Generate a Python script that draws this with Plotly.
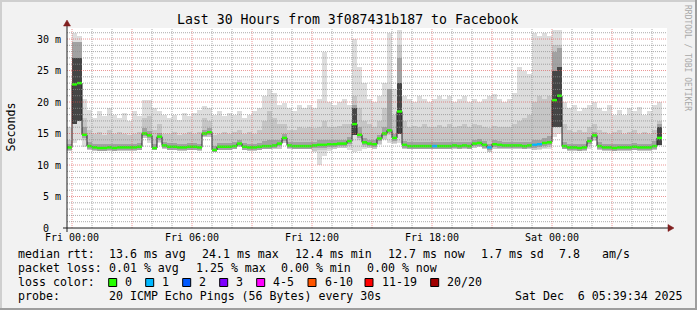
import plotly.graph_objects as go
import pandas as pd

# ---------------- data (15-minute steps starting Thu 23:45) ----------------
med = [
    12.8, 22.8, 23.0, 14.8, 13.0, 12.8, 12.7, 12.7, 12.8, 12.7,
    12.8, 12.8, 12.8, 12.8, 12.9, 15.0, 14.7, 12.7, 14.5, 13.1,
    12.9, 12.9, 12.8, 12.8, 12.9, 12.9, 12.8, 15.0, 15.2, 12.4,
    12.9, 12.9, 12.9, 13.0, 13.4, 12.9, 12.8, 12.8, 12.9, 13.0,
    13.0, 13.1, 13.4, 14.3, 13.1, 13.0, 13.0, 13.0, 13.0, 13.1,
    13.2, 13.2, 13.3, 13.3, 13.4, 13.4, 13.8, 16.5, 14.8, 13.6,
    13.4, 13.3, 14.2, 15.0, 15.5, 14.3, 18.5, 13.2, 13.0, 13.0,
    13.0, 13.0, 13.0, 13.0, 13.0, 13.0, 13.0, 13.1, 13.0, 13.1,
    13.0, 13.4, 13.5, 13.2, 12.8, 13.3, 13.2, 13.1, 13.1, 13.1,
    13.1, 13.0, 13.1, 13.2, 13.3, 13.5, 13.6, 20.3, 21.0, 13.0,
    12.8, 12.8, 12.7, 12.8, 13.8, 14.7, 13.0, 12.8, 12.8, 12.7,
    12.8, 12.8, 12.8, 12.9, 12.8, 12.8, 12.8, 13.0, 14.3,
]
lo = [
    12.3, 13.5, 14.0, 12.8, 12.4, 12.3, 12.2, 12.2, 12.3, 12.2,
    12.3, 12.3, 12.3, 12.3, 12.4, 14.3, 13.5, 12.4, 13.5, 12.6,
    12.4, 12.4, 12.3, 12.3, 12.4, 12.4, 12.3, 14.5, 14.4, 12.0,
    12.4, 12.4, 12.4, 12.5, 12.8, 12.4, 12.3, 12.3, 12.4, 12.5,
    12.5, 12.5, 12.6, 13.5, 12.6, 12.5, 12.5, 12.5, 12.5, 12.0,
    10.0, 11.5, 12.2, 12.6, 12.7, 12.7, 12.4, 12.0, 12.2, 12.6,
    12.7, 12.6, 13.2, 14.0, 13.5, 13.3, 13.5, 12.6, 12.5, 12.5,
    12.5, 12.5, 12.5, 12.5, 12.5, 12.5, 12.5, 12.5, 12.5, 12.6,
    12.5, 12.7, 12.8, 12.5, 12.0, 12.6, 12.6, 12.5, 12.5, 12.5,
    12.5, 12.5, 12.5, 12.4, 12.4, 12.6, 12.5, 14.5, 15.0, 12.5,
    12.3, 12.3, 12.2, 12.3, 12.6, 13.8, 12.4, 12.3, 12.3, 12.2,
    12.3, 12.3, 12.3, 12.4, 12.3, 12.3, 12.3, 12.4, 13.0,
]
mid = [
    14.0, 28.0, 28.5, 17.5, 15.5, 15.0, 15.2, 14.8, 15.5, 15.0,
    15.3, 15.0, 14.8, 15.0, 15.2, 17.5, 17.8, 15.5, 16.5, 15.0,
    15.0, 15.2, 14.8, 15.0, 15.3, 15.0, 15.2, 17.5, 17.0, 14.8,
    15.0, 15.3, 15.0, 15.2, 15.5, 15.0, 15.2, 15.0, 15.6, 17.0,
    18.5, 17.5, 16.5, 16.5, 15.5, 15.5, 16.0, 15.8, 16.0, 15.8,
    16.0, 17.0, 16.0, 16.0, 16.2, 16.5, 16.5, 21.0, 19.0, 17.0,
    16.5, 16.0, 17.0, 19.0, 22.0, 18.0, 29.0, 17.0, 16.0, 16.2,
    16.0, 16.5, 16.0, 16.0, 16.3, 16.0, 16.5, 16.0, 16.2, 16.5,
    16.0, 16.5, 16.3, 16.0, 15.8, 16.2, 16.0, 16.0, 16.0, 16.5,
    17.0, 17.5, 18.0, 20.0, 21.0, 20.5, 21.0, 29.0, 29.0, 16.5,
    15.5, 15.3, 15.5, 15.2, 16.0, 16.5, 15.5, 15.3, 15.0, 15.2,
    15.5, 15.0, 15.3, 15.5, 15.0, 15.2, 15.0, 15.5, 17.0,
]
hi = [
    16.0, 31.0, 30.5, 20.5, 18.8, 17.5, 18.5, 17.8, 19.0, 18.0,
    17.5, 18.2, 17.0, 18.5, 17.8, 20.4, 20.3, 19.0, 18.5, 18.0,
    17.5, 18.0, 17.2, 18.3, 17.8, 18.2, 18.8, 19.3, 19.0, 18.0,
    18.5, 17.8, 18.3, 18.0, 18.5, 17.5, 18.0, 18.5, 19.0, 21.0,
    22.0, 21.5, 19.5, 19.8, 19.0, 18.5, 19.5, 19.0, 19.5, 19.0,
    20.5, 28.0, 20.0, 19.5, 20.0, 20.5, 19.5, 30.0, 25.5, 23.0,
    20.5, 20.0, 21.0, 23.0, 31.0, 22.0, 31.5, 21.0, 20.5, 20.0,
    21.0, 20.5, 20.0, 20.5, 21.0, 20.5, 21.0, 20.0, 20.5, 21.0,
    20.0, 20.5, 20.0, 20.5, 21.0, 21.3, 20.5, 20.0, 20.5, 21.5,
    25.5, 25.0, 24.5, 31.0, 30.5, 31.0, 30.5, 31.5, 31.5, 20.0,
    19.0, 19.5, 18.5, 19.0, 19.5, 20.0, 19.0, 18.5, 19.5, 18.0,
    18.8, 18.0, 19.0, 18.5, 19.2, 18.0, 18.5, 19.5, 20.0,
]
core = [
    13.4, 29.5, 29.5, 16.0, 13.6, 13.4, 13.3, 13.3, 13.4, 13.3,
    13.4, 13.4, 13.4, 13.4, 13.5, 15.8, 15.4, 13.3, 15.1, 13.7,
    13.5, 13.5, 13.4, 13.4, 13.5, 13.5, 13.4, 15.6, 15.8, 13.0,
    13.5, 13.5, 13.5, 13.6, 14.0, 13.5, 13.4, 13.4, 13.5, 13.8,
    14.0, 13.9, 14.0, 14.9, 13.7, 13.6, 13.7, 13.6, 13.7, 13.7,
    13.9, 14.0, 13.9, 13.9, 14.0, 14.0, 14.5, 19.5, 16.0, 14.3,
    14.0, 13.9, 14.8, 16.0, 22.0, 15.0, 27.0, 13.8, 13.6, 13.6,
    13.6, 13.6, 13.6, 13.6, 13.6, 13.6, 13.6, 13.7, 13.6, 13.7,
    13.6, 14.0, 14.1, 13.8, 13.4, 13.9, 13.8, 13.7, 13.7, 13.7,
    13.7, 13.6, 13.7, 13.9, 14.0, 14.3, 14.6, 28.0, 28.5, 13.6,
    13.4, 13.4, 13.3, 13.4, 14.4, 15.3, 13.6, 13.4, 13.4, 13.3,
    13.4, 13.4, 13.4, 13.5, 13.4, 13.4, 13.4, 13.8, 16.5,
]
loss = [
    0, 0, 0, 0, 0, 0, 0, 0, 0, 0,
    0, 0, 0, 0, 0, 0, 0, 0, 0, 0,
    0, 0, 0, 0, 0, 0, 0, 0, 0, 0,
    0, 0, 0, 0, 0, 0, 0, 0, 0, 0,
    0, 0, 0, 0, 0, 0, 0, 0, 0, 0,
    0, 0, 0, 0, 0, 0, 0, 0, 0, 0,
    0, 0, 0, 0, 0, 0, 0, 0, 0, 0,
    0, 0, 0, 1, 0, 0, 0, 0, 0, 0,
    0, 0, 0, 0, 1, 0, 0, 0, 0, 0,
    0, 0, 0, 1, 1, 0, 0, 0, 0, 0,
    0, 0, 0, 0, 0, 0, 0, 0, 0, 0,
    0, 0, 0, 0, 0, 0, 0, 0, 0,
]
# darkest smoke core (only where the pings spread widely)
dark_idx = [1, 2, 57, 66, 97, 98, 118]
dark_lo = [16.5, 17.0, 14.8, 15.0, 16.0, 16.0, 13.2]
dark_hi = [27.0, 27.0, 19.0, 23.0, 25.0, 25.5, 16.0]

loss_labels = ["0", "1", "2", "3", "4-5", "6-10", "11-19", "20/20"]
loss_colors = ["#26ff00", "#00b8ff", "#0059ff", "#7e00ff", "#ff00ff", "#ff5500", "#ff0000", "#a00000"]

rtt_stats = ["13.6 ms avg", "24.1 ms max", "12.4 ms min", "12.7 ms now", "1.7 ms sd", "7.8", "am/s"]
loss_stats = ["0.01 % avg", "1.25 % max", "0.00 % min", "0.00 % now"]
probe_text = "20 ICMP Echo Pings (56 Bytes) every 30s"
stamp_text = "Sat Dec\u00a0 6 05:39:34 2025"
title_text = "Last 30 Hours from 3f087431b187 to Facebook"

y_tickvals = [0, 5, 10, 15, 20, 25, 30]
y_ticktext = ["0\u00a0\u00a0", "5 m", "10 m", "15 m", "20 m", "25 m", "30 m"]

# ---------------- geometry helpers ----------------
W, H = 697, 310
L, R, T, B = 67, 30, 28, 82
PW, PH = W - L - R, H - T - B
FONT = "DejaVu Sans Mono"


def px(x):
    return (x - L) / PW


def py(y):
    return (H - B - y) / PH


t0 = pd.Timestamp("2025-12-04 23:45:00")
t1 = pd.Timestamp("2025-12-06 05:45:00")
STEP = pd.Timedelta(minutes=15)
STEP_MS = STEP.total_seconds() * 1000
n = len(med)
starts = [t0 + i * STEP for i in range(n)]
centers = [s + STEP / 2 for s in starts]

fig = go.Figure()


def band(xs, los, his, color):
    return go.Bar(
        x=xs, y=[h - l for l, h in zip(los, his)], base=los,
        width=STEP_MS * 1.04, marker=dict(color=color, line=dict(width=0)),
        hoverinfo="skip", showlegend=False,
    )


# inner layers only hang a little below the median (pings below it are tight)
base_mid = [max(l, m - 0.8) for l, m in zip(lo, med)]
base_core = [max(l, m - 0.45) for l, m in zip(lo, med)]

fig.add_trace(band(centers, lo, hi, "#dddddd"))
fig.add_trace(band(centers, base_mid, mid, "#c6c6c6"))
fig.add_trace(band(centers, base_core, core, "#a2a2a2"))
fig.add_trace(band([centers[i] for i in dark_idx], dark_lo, dark_hi, "#454545"))

# median step line (black)
fig.add_trace(go.Scatter(
    x=starts + [starts[-1] + STEP], y=med + [med[-1]], mode="lines",
    line=dict(color="#202020", width=1, shape="hv"), hoverinfo="skip", showlegend=False,
))
# loss-coloured median segments
for lvl, col in enumerate(loss_colors):
    xs, ys = [], []
    for i in range(n):
        if loss[i] == lvl:
            xs += [starts[i], starts[i] + STEP, None]
            ys += [med[i], med[i], None]
    if xs:
        fig.add_trace(go.Scatter(x=xs, y=ys, mode="lines", line=dict(color=col, width=2.5),
                                 hoverinfo="skip", showlegend=False))

shapes = []
# grid (drawn above the smoke, like rrdtool)
minor_col = "rgba(143,143,143,0.75)"
major_col = "rgba(222,79,79,0.6)"
hour = pd.Timedelta(hours=1)
fri0 = pd.Timestamp("2025-12-05 00:00:00")
h = 0
while fri0 + h * hour < t1:
    t = fri0 + h * hour
    shapes.append(dict(type="line", xref="x", yref="paper", x0=t, x1=t, y0=0, y1=1, layer="above",
                       line=dict(color=major_col if h % 3 == 0 else minor_col, width=1, dash="1px,1px")))
    h += 1
for v in range(1, 32):
    shapes.append(dict(type="line", xref="paper", yref="y", x0=0, x1=1, y0=v, y1=v, layer="above",
                       line=dict(color=major_col if v % 5 == 0 else minor_col, width=1, dash="1px,1px")))

# axes with arrows
axis_col = "#1f1f1f"
arrow_col = "#801f1f"
shapes.append(dict(type="line", xref="paper", yref="paper", x0=px(63), x1=px(669), y0=0, y1=0,
                   line=dict(color=axis_col, width=1), layer="above"))
shapes.append(dict(type="line", xref="paper", yref="paper", x0=0, x1=0, y0=py(232), y1=py(25),
                   line=dict(color=axis_col, width=1), layer="above"))
shapes.append(dict(type="path", xref="paper", yref="paper", layer="above",
                   path=f"M {px(668)},{py(224.5)} L {px(674)},{py(228)} L {px(668)},{py(231.5)} Z",
                   fillcolor=arrow_col, line=dict(color=arrow_col, width=0.5)))
shapes.append(dict(type="path", xref="paper", yref="paper", layer="above",
                   path=f"M {px(63.5)},{py(26)} L {px(67)},{py(20)} L {px(70.5)},{py(26)} Z",
                   fillcolor=arrow_col, line=dict(color=arrow_col, width=0.5)))

# image frame (shade A top/left, shade B bottom/right)
shapes.append(dict(type="line", xref="paper", yref="paper", x0=px(0), x1=px(W), y0=py(1), y1=py(1),
                   line=dict(color="#cfcfcf", width=2)))
shapes.append(dict(type="line", xref="paper", yref="paper", x0=px(1), x1=px(1), y0=py(0), y1=py(H),
                   line=dict(color="#cfcfcf", width=2)))
shapes.append(dict(type="line", xref="paper", yref="paper", x0=px(0), x1=px(W), y0=py(H - 1), y1=py(H - 1),
                   line=dict(color="#9e9e9e", width=2)))
shapes.append(dict(type="line", xref="paper", yref="paper", x0=px(W - 1), x1=px(W - 1), y0=py(0), y1=py(H),
                   line=dict(color="#9e9e9e", width=2)))

annotations = []


def text(s, x, y, size=11.6, anchor="left", color="#000000", angle=0):
    annotations.append(dict(text=s, xref="paper", yref="paper", x=px(x), y=py(y), xanchor=anchor,
                            yanchor="middle", showarrow=False, textangle=angle,
                            font=dict(family=FONT, size=size, color=color)))


text(title_text, 347.3, 19, size=13.2, anchor="center")
text("Seconds", 10, 127.5, anchor="center", angle=-90)
text("RRDTOOL / TOBI OETIKER", 688, 58, size=8, anchor="center", color="#a8a8a8", angle=90)

# legend rows
text("median rtt:", 16, 254)
for s, x in zip(rtt_stats, [107, 200, 293.3, 386, 479.3, 556.7, 600]):
    text(s, x, 254)
text("packet loss:", 16, 268)
for s, x in zip(loss_stats, [107.3, 194, 279.3, 365]):
    text(s, x, 268)
text("loss color:", 16, 282)
sq_x = [108.7, 145.7, 182.7, 219.7, 256.7, 308, 365, 430.7]
for lab, col, x in zip(loss_labels, loss_colors, sq_x):
    shapes.append(dict(type="rect", xref="paper", yref="paper", x0=px(x), x1=px(x + 8),
                       y0=py(286.5), y1=py(278.5), fillcolor=col, line=dict(color="#000000", width=1)))
    text(lab, x + 14.6, 282)
text("probe:", 16, 296)
text(probe_text, 107.3, 296)
text(stamp_text, 513.3, 296)

fig.update_layout(
    width=W, height=H, margin=dict(l=L, r=R, t=T, b=B, pad=0),
    paper_bgcolor="#f2f2f2", plot_bgcolor="#ffffff",
    barmode="overlay", bargap=0, showlegend=False,
    shapes=shapes, annotations=annotations,
    xaxis=dict(type="date", range=[t0, t1], showgrid=False, zeroline=False, showline=False,
               tick0="2025-12-05 00:00:00", dtick=6 * 3600 * 1000, tickformat="%a %H:%M",
               ticks="", ticklabelstandoff=2,
               tickfont=dict(family=FONT, size=10, color="#000000"), fixedrange=True),
    yaxis=dict(range=[0, 31.75], showgrid=False, zeroline=False, showline=False,
               tickmode="array", tickvals=y_tickvals, ticktext=y_ticktext,
               ticks="", ticklabelstandoff=5,
               tickfont=dict(family=FONT, size=10, color="#000000"), fixedrange=True),
)

fig.write_html("out.html")
